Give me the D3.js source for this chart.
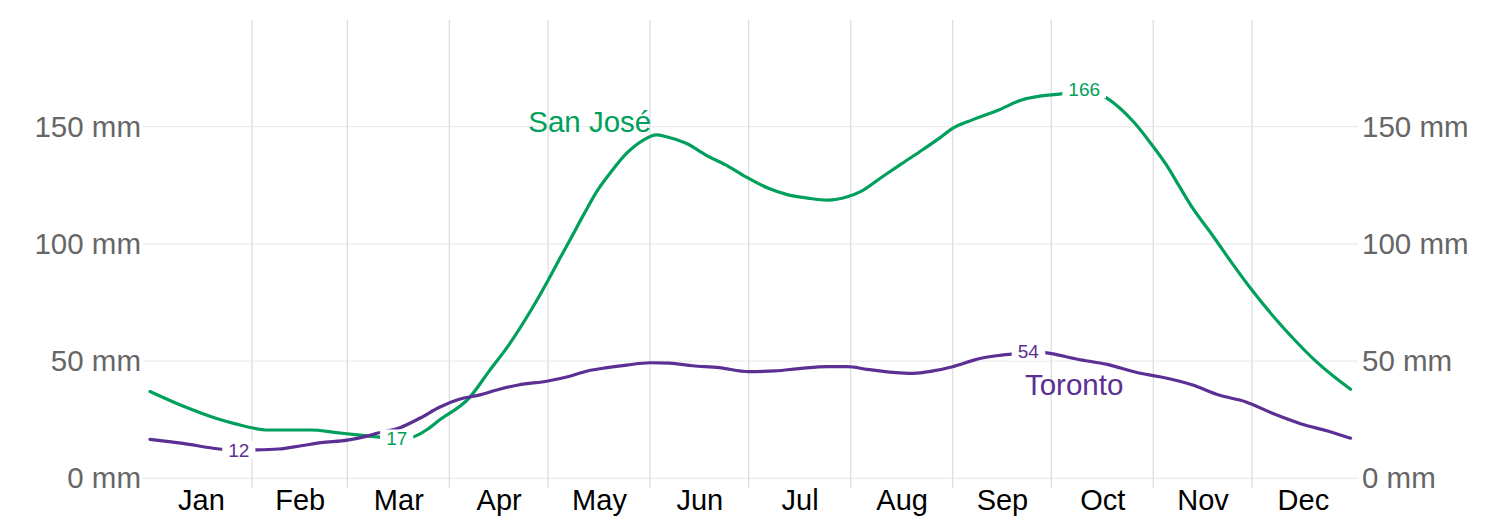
<!DOCTYPE html>
<html>
<head>
<meta charset="utf-8">
<script src="https://cdn.jsdelivr.net/npm/d3@7"></script>
<style>
  html, body { margin: 0; padding: 0; background: #fff; }
  svg { display: block; font-family: "Liberation Sans", Arial, Helvetica, sans-serif; }
</style>
</head>
<body>
<svg id="chart" width="1506" height="524"></svg>
<script>
// ---------- DATA ----------
const months = ["Jan","Feb","Mar","Apr","May","Jun","Jul","Aug","Sep","Oct","Nov","Dec"];
const yTicks = [0, 50, 100, 150];

const sanJoseDates = ["2020-01-01","2020-01-11","2020-01-21","2020-01-27","2020-02-06","2020-02-19","2020-02-26","2020-03-04","2020-03-10","2020-03-16","2020-03-21","2020-03-25","2020-03-29","2020-04-07","2020-04-13","2020-04-19","2020-04-26","2020-05-01","2020-05-05","2020-05-08","2020-05-12","2020-05-16","2020-05-20","2020-05-25","2020-05-30","2020-06-03","2020-06-06","2020-06-12","2020-06-18","2020-06-24","2020-06-30","2020-07-07","2020-07-13","2020-07-19","2020-07-25","2020-07-31","2020-08-04","2020-08-10","2020-08-16","2020-08-22","2020-08-28","2020-09-01","2020-09-07","2020-09-15","2020-09-22","2020-09-28","2020-10-04","2020-10-11","2020-10-18","2020-10-26","2020-11-01","2020-11-05","2020-11-09","2020-11-13","2020-11-19","2020-11-25","2020-12-01","2020-12-08","2020-12-14","2020-12-20","2020-12-26","2020-12-31"];
const sanJoseValues = [37.0,30.8,25.6,23.2,20.6,20.6,19.6,18.5,17.7,17.0,17.7,20.6,24.9,34.2,45.5,56.7,72.1,84.4,94.8,102.5,112.9,122.7,130.4,138.8,144.3,146.5,145.7,142.9,137.9,133.7,128.7,123.7,120.9,119.5,118.7,120.1,122.3,128.0,133.7,139.3,145.1,149.3,152.9,157.1,161.4,163.1,164.0,166.0,162.1,152.1,141.5,133.7,124.4,115.2,103.7,91.7,80.3,68.3,59.0,50.5,43.3,38.0];

const torontoDates = ["2020-01-01","2020-01-11","2020-01-22","2020-01-28","2020-02-01","2020-02-09","2020-02-16","2020-02-22","2020-03-01","2020-03-07","2020-03-10","2020-03-17","2020-03-23","2020-03-29","2020-04-04","2020-04-10","2020-04-16","2020-04-22","2020-05-01","2020-05-07","2020-05-13","2020-05-19","2020-05-25","2020-06-01","2020-06-07","2020-06-14","2020-06-22","2020-07-01","2020-07-09","2020-07-17","2020-07-25","2020-07-31","2020-08-06","2020-08-14","2020-08-20","2020-08-26","2020-09-01","2020-09-07","2020-09-09","2020-09-15","2020-09-19","2020-09-24","2020-09-29","2020-10-09","2020-10-18","2020-10-28","2020-11-03","2020-11-13","2020-11-21","2020-11-29","2020-12-08","2020-12-16","2020-12-24","2020-12-31"];
const torontoValues = [16.6,14.9,12.5,12.0,12.1,12.5,13.9,15.2,16.3,18.0,19.2,21.6,25.6,30.3,33.7,35.5,37.9,39.8,41.5,43.3,45.8,47.2,48.3,49.3,49.1,48.0,47.2,45.5,45.8,46.9,47.6,47.6,46.5,45.2,44.8,45.8,47.6,50.2,51.0,52.4,53.0,54.0,53.6,50.8,48.6,44.8,43.3,39.8,35.5,32.7,27.3,23.2,20.2,17.1];

const seriesNames = ["San José", "Toronto"];
const seriesColors = ["#00a05c", "#5b2f93"];
const nameLabelDates = ["2020-04-25", "2020-09-23"];
const nameLabelValues = [147.7, 35.5];

const extremeSeries = [1, 0, 1, 0];
const extremeDates = ["2020-01-28", "2020-03-16", "2020-09-24", "2020-10-11"];
const extremeValues = [12, 17, 54, 166];

// ---------- CHART ----------
const FONT = "'Liberation Sans', Arial, sans-serif";
const parse = d3.utcParse("%Y-%m-%d");
const svg = d3.select("#chart");

const x = d3.scaleUtc()
  .domain([parse("2020-01-01"), parse("2020-12-31")])
  .range([150, 1350.6]);
const y = d3.scaleLinear()
  .domain([0, 195.5])
  .range([478.3, 20]);

const plotLeft = 143, plotRight = 1358;

// horizontal grid
svg.append("g").selectAll("line").data(yTicks).join("line")
  .attr("x1", plotLeft).attr("x2", plotRight)
  .attr("y1", d => y(d)).attr("y2", d => y(d))
  .attr("stroke", "#ebebeb").attr("stroke-width", 1.3);

// vertical grid at month boundaries
const monthStarts = d3.utcMonth.range(parse("2020-01-01"), parse("2021-01-01"));
svg.append("g").selectAll("line").data(monthStarts.slice(1)).join("line")
  .attr("x1", d => x(d)).attr("x2", d => x(d))
  .attr("y1", y(195.5)).attr("y2", 488)
  .attr("stroke", "#dedede").attr("stroke-width", 1.3);

// y axes
const fmt = d => d + " mm";
const yl = svg.append("g").attr("transform", `translate(${plotLeft},0)`)
  .call(d3.axisLeft(y).tickValues(yTicks).tickFormat(fmt).tickSize(0).tickPadding(2));
const yr = svg.append("g").attr("transform", `translate(${plotRight},0)`)
  .call(d3.axisRight(y).tickValues(yTicks).tickFormat(fmt).tickSize(0).tickPadding(4));
[yl, yr].forEach(g => {
  g.select(".domain").remove();
  g.selectAll("text").attr("fill", "#666").style("font-size", "29.5px")
    .style("font-family", FONT);
});

// x axis: month labels centered at mid-month
const midMonths = monthStarts.map(d => {
  const next = d3.utcMonth.offset(d, 1);
  return new Date((d.getTime() + next.getTime()) / 2);
});
const xa = svg.append("g").attr("transform", "translate(0,488)")
  .call(d3.axisBottom(x).tickValues(midMonths)
    .tickFormat((d, i) => months[i]).tickSize(0).tickPadding(1));
xa.select(".domain").remove();
xa.selectAll("text").attr("fill", "#000").style("font-size", "29px")
  .style("font-family", FONT);

// lines
const seriesData = [
  sanJoseDates.map((d, i) => ({ date: parse(d), value: sanJoseValues[i] })),
  torontoDates.map((d, i) => ({ date: parse(d), value: torontoValues[i] }))
];
const line = d3.line().x(d => x(d.date)).y(d => y(d.value)).curve(d3.curveMonotoneX);

svg.append("g").selectAll("path").data(seriesData).join("path")
  .attr("d", line)
  .attr("fill", "none")
  .attr("stroke", (d, i) => seriesColors[i])
  .attr("stroke-width", 3.2)
  .attr("stroke-linejoin", "round")
  .attr("stroke-linecap", "round");

// series name labels
svg.append("g").selectAll("text").data(seriesNames).join("text")
  .attr("x", (d, i) => x(parse(nameLabelDates[i])))
  .attr("y", (d, i) => y(nameLabelValues[i]))
  .attr("fill", (d, i) => seriesColors[i])
  .style("font-size", "29.5px")
  .style("font-family", FONT)
  .text(d => d);

// extreme value labels with white backing
const lg = svg.append("g");
extremeValues.forEach((v, i) => {
  const cx = x(parse(extremeDates[i])), cy = y(v);
  const g = lg.append("g");
  const t = g.append("text")
    .attr("x", cx).attr("y", cy)
    .attr("text-anchor", "middle")
    .attr("dominant-baseline", "central")
    .attr("fill", seriesColors[extremeSeries[i]])
    .style("font-size", "19px")
    .style("font-family", FONT)
    .text(v);
  const bb = t.node().getBBox();
  g.insert("rect", "text")
    .attr("x", bb.x - 6).attr("y", cy - 9)
    .attr("width", bb.width + 12).attr("height", 18)
    .attr("fill", "#fff");
});
</script>
</body>
</html>
